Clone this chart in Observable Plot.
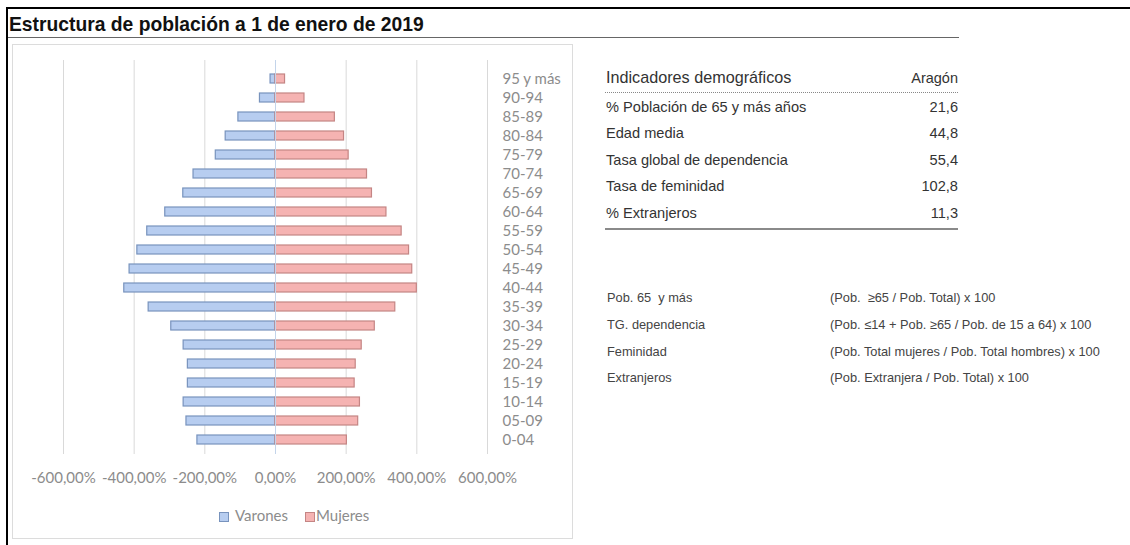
<!DOCTYPE html>
<html>
<head>
<meta charset="utf-8">
<script src="https://cdn.jsdelivr.net/npm/d3@7"></script>
<script src="https://cdn.jsdelivr.net/npm/@observablehq/plot@0.6"></script>
<style>
  body { margin: 0; background: #fff; }
  #page { position: relative; width: 1130px; height: 545px; overflow: hidden; font-family: Arial, "Liberation Sans", sans-serif; }
  .abs { position: absolute; white-space: nowrap; }
</style>
</head>
<body>
<div id="page"></div>
<script>
// ---- Data ----
const ages = ["0-04","05-09","10-14","15-19","20-24","25-29","30-34","35-39","40-44","45-49",
              "50-54","55-59","60-64","65-69","70-74","75-79","80-84","85-89","90-94","95 y más"];
const varones = [221, 252, 260, 248, 248, 260, 295, 359, 428, 413,
                 391, 363, 312, 261, 232, 169, 141, 105, 44, 14];
const mujeres = [202, 234, 239, 224, 227, 244, 281, 339, 400, 387,
                 378, 357, 314, 273, 259, 207, 194, 168, 82, 27];
const xTicks = [-600, -400, -200, 0, 200, 400, 600];
const sexes = ["Varones", "Mujeres"];
const sexFill = ["#b7cdf0", "#f5b3b2"];
const sexStroke = ["#7893bd", "#c48584"];

const title = "Estructura de población a 1 de enero de 2019";
const indHeader = ["Indicadores demográficos", "Aragón"];
const indNames = ["% Población de 65 y más años", "Edad media", "Tasa global de dependencia", "Tasa de feminidad", "% Extranjeros"];
const indValues = ["21,6", "44,8", "55,4", "102,8", "11,3"];
const defNames = ["Pob. 65  y más", "TG. dependencia", "Feminidad", "Extranjeros"];
const defFormulas = ["(Pob.  ≥65 / Pob. Total) x 100",
                     "(Pob. ≤14 + Pob. ≥65 / Pob. de 15 a 64) x 100",
                     "(Pob. Total mujeres / Pob. Total hombres) x 100",
                     "(Pob. Extranjera / Pob. Total) x 100"];

// ---- Layout helpers ----
const page = document.getElementById("page");
function box(left, top, width, height, style) {
  const d = document.createElement("div");
  d.className = "abs";
  Object.assign(d.style, {left: left + "px", top: top + "px", width: width + "px", height: height + "px"}, style || {});
  page.appendChild(d);
  return d;
}
// text placed by baseline
function text(str, x, baseline, fs, style, anchor) {
  const d = document.createElement("div");
  d.className = "abs";
  d.textContent = str;
  Object.assign(d.style, {fontSize: fs + "px", lineHeight: fs + "px", top: (baseline - 0.8465 * fs) + "px"}, style || {});
  if (anchor === "end") d.style.right = (1130 - x) + "px"; else d.style.left = x + "px";
  page.appendChild(d);
  return d;
}

// frame lines
box(6, 7, 1124, 2, {background: "#000"});
box(6, 7, 2, 538, {background: "#000"});
text(title, 9, 31, 19.3, {fontWeight: "bold", color: "#111"});
box(8, 36.5, 951, 1.5, {background: "#666"});
// chart area box
box(12, 44, 559, 493, {border: "1px solid #dcdcdc", background: "#fff"});

// ---- Pyramid chart ----
const rows = [];
ages.forEach((a, i) => {
  rows.push({age: a, sex: "Varones", value: varones[i]});
  rows.push({age: a, sex: "Mujeres", value: mujeres[i]});
});
const fmt = d => d.toFixed(2).replace(".", ",") + "%";

const chart = Plot.plot({
  width: 561,
  height: 494,
  marginLeft: 51,
  marginRight: 86,
  marginTop: 16,
  marginBottom: 84,
  x: {domain: [-600, 600]},
  y: {domain: ages.slice().reverse(), range: [20, 410], padding: 0},
  color: {domain: sexes, range: sexFill},
  style: {fontFamily: "Lato, 'Open Sans', sans-serif", fontSize: "15px", color: "#8c8c8c", background: "transparent", overflow: "visible"},
  marks: [
    Plot.ruleX(xTicks.filter(d => d !== 0), {stroke: "#d9d9d9", strokeWidth: 1}),
    Plot.barX(rows.filter(d => d.sex === "Varones"), {
      x1: 0, x2: d => -d.value, y: "age", fill: "sex",
      stroke: sexStroke[0], strokeWidth: 1.2, insetTop: 5, insetBottom: 5
    }),
    Plot.barX(rows.filter(d => d.sex === "Mujeres"), {
      x1: 0, x2: d => d.value, y: "age", fill: "sex",
      stroke: sexStroke[1], strokeWidth: 1.2, insetTop: 5, insetBottom: 5
    }),
    Plot.ruleX([0], {stroke: "#c3d4ea", strokeWidth: 1}),
    Plot.axisX({ticks: xTicks, tickFormat: fmt, tickSize: 0, tickPadding: 18, label: null}),
    Plot.axisY({anchor: "right", tickSize: 0, tickPadding: 15, label: null})
  ]
});
chart.style.position = "absolute";
chart.style.left = "12px";
chart.style.top = "44px";
page.appendChild(chart);

// ---- Legend ----
const legendX = [[219, 235], [305, 316]];
sexes.forEach((s, i) => {
  box(legendX[i][0], 512, 8, 8, {background: sexFill[i], border: "1px solid " + sexStroke[i]});
  text(s, legendX[i][1], 521, 15, {fontFamily: "Lato, 'Open Sans', sans-serif", color: "#8c8c8c"});
});

// ---- Indicators table ----
const tblL = 606, tblR = 958;
text(indHeader[0], tblL, 83, 16.2, {color: "#333"});
text(indHeader[1], tblR, 83, 14.5, {color: "#333"}, "end");
box(605, 92, 353, 0, {borderTop: "1px dotted #888"});
const rowBase = [112, 138.5, 165, 191.5, 218];
indNames.forEach((n, i) => {
  text(n, tblL, rowBase[i], 14.6, {color: "#333"});
  text(indValues[i], tblR, rowBase[i], 14.6, {color: "#333"}, "end");
});
box(605, 228, 353, 2, {background: "#8a8a8a"});

// ---- Definitions ----
const defBase = [303, 330, 357, 383];
defNames.forEach((n, i) => {
  text(n, 607, defBase[i], 12.8, {color: "#444", whiteSpace: "pre"});
  text(defFormulas[i], 830, defBase[i], 12.8, {color: "#444", whiteSpace: "pre"});
});
</script>
</body>
</html>
